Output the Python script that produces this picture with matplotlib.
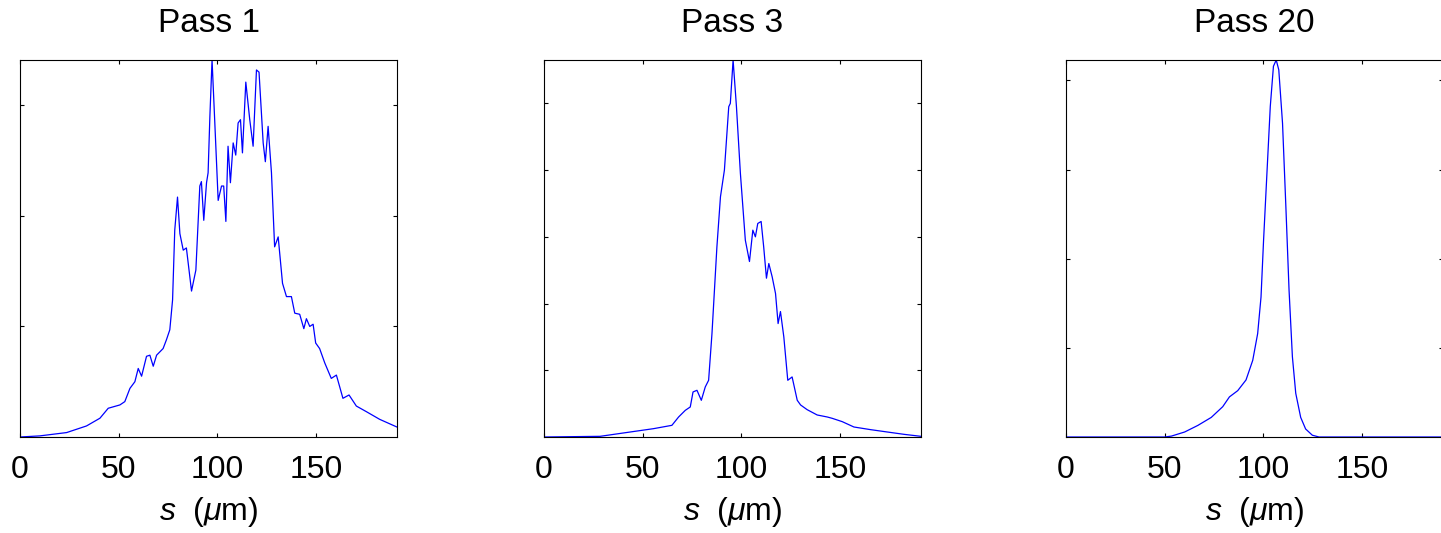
import matplotlib.pyplot as plt

# Profiles; y is in units of the (unlabelled) y tick spacing.
S_PASS1 = [0, 10, 23.6, 33.7, 40.5, 44.7, 50.6, 53.1, 55.7, 58.2, 59.9, 61.6, 64.1,
           65.8, 67.5, 69.2, 72.5, 74.2, 75.9, 77.3, 78.4, 79.8, 81, 82.7, 84.3, 86.9,
           89.1, 91.1, 91.9, 93.1, 94.5, 95.3, 96.2, 97.3, 98.7, 100.4, 102.1, 103.2,
           104.3, 105.4, 106.6, 108, 109.3, 110.5, 111.7, 112.7, 114.4, 116.4, 118.1,
           119.8, 121.1, 123.2, 124.3, 125.7, 127.4, 129, 130.8, 133, 135, 137.5,
           139.2, 141.7, 143.8, 145.1, 146.8, 148.5, 149.8, 151.8, 154.4, 157.7,
           160.3, 163.6, 166.7, 170.4, 175.4, 182.2, 191]
Y_PASS1 = [0, 0.01, 0.04, 0.1, 0.17, 0.26, 0.29, 0.32, 0.44, 0.5, 0.62, 0.55, 0.73,
           0.74, 0.64, 0.74, 0.8, 0.88, 0.97, 1.24, 1.87, 2.17, 1.84, 1.69, 1.71, 1.32,
           1.51, 2.27, 2.31, 1.96, 2.3, 2.39, 2.9, 3.41, 2.84, 2.14, 2.27, 2.27,
           1.95, 2.63, 2.3, 2.66, 2.55, 2.84, 2.87, 2.57, 3.21, 2.87, 2.63,
           3.32, 3.3, 2.66, 2.49, 2.81, 2.39, 1.72, 1.81, 1.39, 1.27, 1.27,
           1.12, 1.11, 0.98, 1.07, 1.0, 1.02, 0.85, 0.8, 0.67, 0.53,
           0.56, 0.35, 0.38, 0.28, 0.23, 0.16, 0.09]

S_PASS3 = [0, 28.4, 43.7, 55.5, 64.8, 68.2, 71.6, 74.1, 75.5, 77.5, 79.7, 81.7, 83.4,
           85.1, 87.6, 89.4, 91.4, 93.6, 94.4, 95.8, 97.5, 99.5, 102, 104.1, 105.8,
           107.1, 108.3, 110, 111.3, 112.7, 113.9, 115.6, 117.3, 118.6, 119.8, 121.5,
           123.5, 125.7, 128.3, 130, 133.3, 138.4, 143.5, 146, 151.1, 157, 165.5,
           173.9, 182.4, 191]
Y_PASS3 = [0, 0.01, 0.075, 0.125, 0.175, 0.3, 0.4, 0.45, 0.675, 0.7, 0.55, 0.75, 0.85,
           1.55, 2.85, 3.6, 4.0, 4.95, 5.0, 5.65, 4.95, 3.95, 2.95, 2.63, 3.1,
           3.0, 3.2, 3.23, 2.85, 2.38, 2.6, 2.4, 2.15, 1.7, 1.88, 1.5,
           0.85, 0.9, 0.55, 0.48, 0.41, 0.33, 0.3, 0.28, 0.23, 0.15, 0.11,
           0.075, 0.04, 0.01]

S_PASS20 = [0, 50, 53.4, 60.1, 66.8, 73.6, 79.4, 82.8, 87, 91.2, 94.6, 97.1, 98.8,
            100.1, 101.8, 103.5, 105.1, 106.5, 107.8, 109.7, 111.4, 113, 114.7, 116.4,
            118.9, 121.4, 124.8, 128.2, 191]
Y_PASS20 = [0, 0, 0.01, 0.056, 0.13, 0.22, 0.34, 0.45, 0.52, 0.64, 0.86, 1.16, 1.57,
            2.21, 2.96, 3.71, 4.16, 4.23, 4.12, 3.52, 2.58, 1.65, 0.9, 0.49,
            0.22, 0.09, 0.02, 0, 0]

TITLES = ["Pass 1", "Pass 3", "Pass 20"]
X_TICKS = [0, 50, 100, 150]
X_MAX = 191

plt.rcParams["font.family"] = ["Liberation Sans", "DejaVu Sans"]
plt.rcParams["mathtext.fontset"] = "custom"
plt.rcParams["mathtext.it"] = "Liberation Sans:italic"
plt.rcParams["mathtext.rm"] = "Liberation Sans"

fig = plt.figure(figsize=(14.41, 5.33), dpi=100)

W, H = 1441, 533
lefts = [20, 544, 1066]
ax_w, ax_h, ax_bottom = 377, 377, 533 - 437

profiles = [(S_PASS1, Y_PASS1), (S_PASS3, Y_PASS3), (S_PASS20, Y_PASS20)]

for left, title, (s, y) in zip(lefts, TITLES, profiles):
    ax = fig.add_axes([left / W, ax_bottom / H, ax_w / W, ax_h / H])
    ax.plot(s, y, color="blue", lw=0.9)
    ax.set_xlim(0, X_MAX)
    ax.set_ylim(0, max(y))
    ax.set_xticks(X_TICKS)
    ax.set_yticks(range(1, int(max(y)) + 1))
    ax.set_yticklabels([])
    ax.tick_params(direction="in", length=3, width=0.8, top=True, right=True,
                   labelsize=23, pad=13)
    for sp in ax.spines.values():
        sp.set_linewidth(0.8)
    ax.set_title(title, fontsize=24, pad=20)
    ax.set_xlabel(r"$s$  ($\mu$m)", fontsize=23)
    ax.xaxis.set_label_coords(0.5, -0.20)
    ax.xaxis.label.set_va("center")

fig.savefig("out.png", dpi=100)
